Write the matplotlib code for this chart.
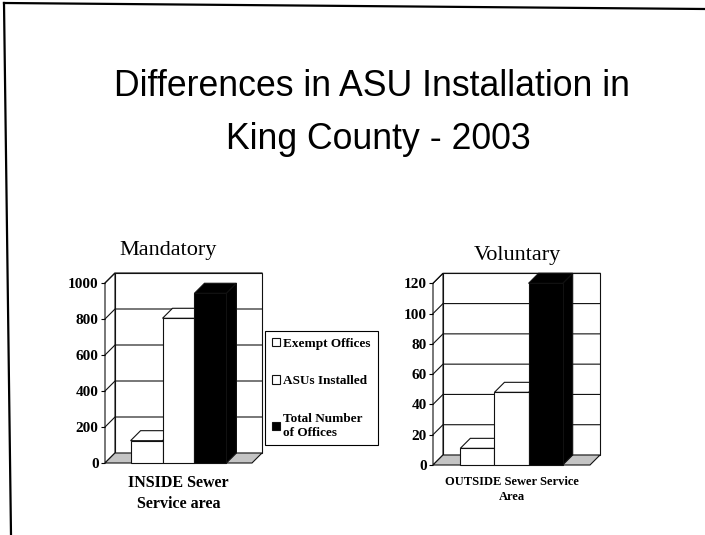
import matplotlib
matplotlib.use("Agg")
import matplotlib.pyplot as plt
from matplotlib.patches import Polygon, Rectangle
from matplotlib.font_manager import FontProperties, fontManager

W, H = 705, 535

series = ["Exempt Offices", "ASUs Installed", "Total Number\nof Offices"]
bar_colors = ["white", "white", "black"]
mandatory = [124, 804, 943]
voluntary = [11, 48, 120]
mand_ticks = [0, 200, 400, 600, 800, 1000]
vol_ticks = [0, 20, 40, 60, 80, 100, 120]

title_lines = ["Differences in ASU Installation in", "King County - 2003"]

names = {f.name for f in fontManager.ttflist}
title_font = "Liberation Sans Narrow" if "Liberation Sans Narrow" in names else "Liberation Sans"
serif = "Liberation Serif"

fig = plt.figure(figsize=(W / 100, H / 100), dpi=100)
fig.patch.set_facecolor("white")


def fx(x):
    return x / W


def fy(y):
    return 1 - y / H


def px_axes(x0, y0, x1, y1):
    return fig.add_axes([fx(x0), fy(y1), (x1 - x0) / W, (y1 - y0) / H])


def chart3d(ax, values, ticks, depth=10):
    n = len(values)
    gap = 0.8
    x0, x1 = -0.5 - gap, n - 0.5 + gap
    ymax = ticks[-1]
    ax.set_xlim(x0, x1)
    ax.set_ylim(0, ymax)
    # depth offset in data units
    p = ax.transData.transform([(0, 0)])[0]
    ddx, ddy = ax.transData.inverted().transform([(p[0] + depth, p[1] + depth)])[0]

    kw = dict(lw=0.8, ec="#111111", clip_on=False)
    ax.add_patch(Rectangle((x0 + ddx, ddy), x1 - x0, ymax, fc="white", zorder=1, **kw))
    ax.add_patch(Polygon([(x0, 0), (x0, ymax), (x0 + ddx, ymax + ddy), (x0 + ddx, ddy)],
                         fc="white", zorder=1, **kw))
    for t in ticks[1:]:
        ax.plot([x0, x0 + ddx, x1 + ddx], [t, t + ddy, t + ddy], color="#111111",
                lw=0.8, zorder=2, clip_on=False)
    ax.add_patch(Polygon([(x0, 0), (x1, 0), (x1 + ddx, ddy), (x0 + ddx, ddy)],
                         fc="#c4c4c4", zorder=2, **kw))

    bars = []
    for i, v in enumerate(values):
        z = 3 + i
        xl, xr = i - 0.5, i + 0.5
        ax.add_patch(Polygon([(xr, 0), (xr, v), (xr + ddx, v + ddy), (xr + ddx, ddy)],
                             fc=bar_colors[i], zorder=z, **kw))
        ax.add_patch(Polygon([(xl, v), (xr, v), (xr + ddx, v + ddy), (xl + ddx, v + ddy)],
                             fc=bar_colors[i], zorder=z, **kw))
        b = ax.bar(i, v, width=1.0, color=bar_colors[i], edgecolor="#111111", lw=0.8,
                   zorder=z + 0.5, clip_on=False, label=series[i])
        bars.append(b)

    ax.set_frame_on(False)
    ax.set_xticks([])
    ax.set_yticks(ticks)
    ax.tick_params(axis="y", length=3, width=0.8, pad=1.5)
    for lab in ax.get_yticklabels():
        lab.set_fontfamily(serif)
        lab.set_fontweight("bold")
        lab.set_fontsize(11)
    return bars


ax1 = px_axes(105, 283, 252, 463)
bars = chart3d(ax1, mandatory, mand_ticks)

ax2 = px_axes(433, 283.3, 590, 465)
chart3d(ax2, voluntary, vol_ticks)

# slide border (scanned, slightly skewed)
fig.add_artist(plt.Line2D([fx(4), fx(705)], [fy(3), fy(9)], color="black", lw=1.6))
fig.add_artist(plt.Line2D([fx(4), fx(11)], [fy(3), fy(535)], color="black", lw=1.6))

# title
t1 = fig.text(fx(372), fy(96), title_lines[0], ha="center", va="baseline",
              family=title_font, fontsize=26)
r = fig.canvas.get_renderer()
fs = 26 * 515 / t1.get_window_extent(r).width
t1.set_fontsize(fs)
fig.text(fx(378), fy(149), title_lines[1], ha="center", va="baseline",
         family=title_font, fontsize=fs)

# chart titles
fig.text(fx(168), fy(255), "Mandatory", ha="center", va="baseline", family=serif, fontsize=16)
fig.text(fx(517), fy(260), "Voluntary", ha="center", va="baseline", family=serif, fontsize=16)

# category labels
lab = dict(ha="center", va="baseline", family=serif, fontweight="bold")
fig.text(fx(178), fy(487), "INSIDE Sewer", fontsize=11.5, **lab)
fig.text(fx(179), fy(508), "Service area", fontsize=11.5, **lab)
fig.text(fx(512), fy(485), "OUTSIDE Sewer Service", fontsize=9, **lab)
fig.text(fx(512), fy(500), "Area", fontsize=9, **lab)

leg = fig.legend(handles=bars, labels=series, loc="upper left",
                 bbox_to_anchor=(fx(265), fy(331)), borderaxespad=0,
                 fancybox=False, edgecolor="black", framealpha=1,
                 prop=FontProperties(family=serif, weight="bold", size=9.5),
                 handlelength=0.6, handleheight=0.6, handletextpad=0.3,
                 labelspacing=1.95, borderpad=0.5)
leg.get_frame().set_linewidth(0.8)

fig.savefig("out.png", dpi=100)
